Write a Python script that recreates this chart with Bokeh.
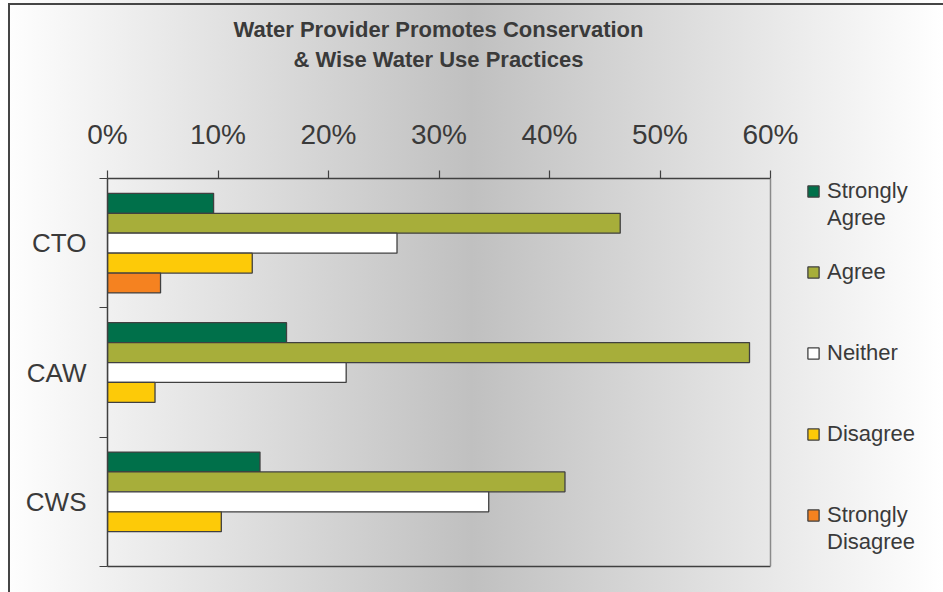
from bokeh.plotting import figure
from bokeh.layouts import column
from bokeh.models import (ColumnDataSource, Range1d, FixedTicker, PrintfTickFormatter,
                          Legend, LegendItem, LinearAxis, Span, Div)
from bokeh.embed import file_html
from bokeh.resources import INLINE

# ---- data (percent of respondents) ----
categories = ["CTO", "CAW", "CWS"]
series = ["Strongly Agree", "Agree", "Neither", "Disagree", "Strongly Disagree"]
# legend label lines per series (two-line labels wrap like the original)
legend_lines = [["Strongly", "Agree"], ["Agree"], ["Neither"], ["Disagree"], ["Strongly", "Disagree"]]
strongly_agree = [9.6, 16.2, 13.8]
agree = [46.4, 58.1, 41.4]
neither = [26.2, 21.6, 34.5]
disagree = [13.1, 4.3, 10.3]
strongly_disagree = [4.8, 0.0, 0.0]
x_ticks = [0, 10, 20, 30, 40, 50, 60]
title_lines = ["Water Provider Promotes Conservation", "&amp; Wise Water Use Practices"]

values = [strongly_agree, agree, neither, disagree, strongly_disagree]
colors = ["#00704A", "#A7AE3A", "#FFFFFF", "#FDCA08", "#F58220"]

FONT = "Liberation Sans, Arial, sans-serif"
TXT = "#3a3a3a"

# ---- layout constants (pixels) ----
W, H = 943, 592
TITLE_H = 100
LEFT, TOP, BOTTOM = 107, 178, 26
AXIS_W = 663            # pixel length of the 0..60 % axis
x_max = x_ticks[-1]
x_end = x_max * (W - LEFT) / AXIS_W   # frame continues under the legend

p = figure(width=W, height=H - TITLE_H, output_backend="svg", toolbar_location=None,
           x_range=Range1d(0, x_end), y_range=Range1d(0, 3),
           x_axis_location="above", min_border_left=LEFT, min_border_right=0,
           min_border_top=TOP - TITLE_H, min_border_bottom=BOTTOM)
p.xgrid.visible = False
p.ygrid.visible = False
p.background_fill_color = None
p.border_fill_color = None
p.outline_line_color = None

# category centres: first category at top
n = len(categories)
centers = [n - 0.5 - i for i in range(n)]
bar_h = 0.154

renderers = []
for k, (name, vals, col) in enumerate(zip(series, values, colors)):
    ys, rs = [], []
    for c, v in zip(centers, vals):
        if v > 0:
            ys.append(c + (2 - k) * bar_h)
            rs.append(v)
    src = ColumnDataSource(dict(y=ys, right=rs))
    r = p.hbar(y="y", left=0, right="right", height=bar_h, source=src,
               fill_color=col, line_color="#404040", line_width=1.3)
    renderers.append(r)

# invisible renderer used for continuation / spacer rows of the legend
blank = p.hbar(y=[], left=0, right=[], height=bar_h, fill_alpha=0, line_alpha=0)

# right edge of the plot area at the last tick
p.add_layout(Span(location=x_max, dimension="height", line_color="#8a8a8a", line_width=1.5))

# x axis (top)
xa = p.xaxis[0]
xa.ticker = FixedTicker(ticks=x_ticks)
xa.bounds = (0, x_max)
xa.formatter = PrintfTickFormatter(format="%d%%")
xa.major_tick_in = 0
xa.major_tick_out = 8
xa.minor_tick_line_color = None
xa.axis_line_color = "#404040"
xa.axis_line_width = 1.5
xa.major_tick_line_color = "#404040"
xa.major_tick_line_width = 1.2
xa.major_label_text_font = FONT
xa.major_label_text_font_size = "28px"
xa.major_label_text_color = TXT
xa.major_label_standoff = 21

# y axis: labels at band centres, ticks at band boundaries
ya = p.yaxis[0]
ya.ticker = FixedTicker(ticks=centers, minor_ticks=[0, 1, 2, 3])
ya.major_label_overrides = {c: lab for c, lab in zip(centers, categories)}
ya.major_tick_line_color = None
ya.major_tick_in = 0
ya.major_tick_out = 0
ya.minor_tick_in = 0
ya.minor_tick_out = 8
ya.minor_tick_line_color = "#404040"
ya.minor_tick_line_width = 1.2
ya.axis_line_color = "#404040"
ya.axis_line_width = 1.5
ya.major_label_text_font = FONT
ya.major_label_text_font_size = "26px"
ya.major_label_text_color = TXT
ya.major_label_standoff = 13

# dark bottom frame line
bx = LinearAxis(ticker=FixedTicker(ticks=[]), bounds=(0, x_max), axis_line_color="#404040",
                axis_line_width=1.5, major_label_text_font_size="0px",
                major_tick_line_color=None, minor_tick_line_color=None)
p.add_layout(bx, "below")

# legend rows: each series starts 3 rows after the previous one
ROWS_PER_ITEM = 3
items = []
for k, lines in enumerate(legend_lines):
    items.append(LegendItem(label=lines[0], renderers=[renderers[k]]))
    for extra in lines[1:]:
        items.append(LegendItem(label=extra, renderers=[blank]))
    if k < len(legend_lines) - 1:
        for _ in range(ROWS_PER_ITEM - len(lines)):
            items.append(LegendItem(label=" ", renderers=[blank]))

legend = Legend(items=items, location=(699, 11), orientation="vertical",
                glyph_width=14, glyph_height=14, label_standoff=7,
                label_text_font=FONT, label_text_font_size="22px",
                label_text_color=TXT, background_fill_alpha=0, border_line_alpha=0,
                spacing=0, margin=0, padding=0, label_height=27)
p.add_layout(legend, "center")

title_html = (
    f'<div style="width:{AXIS_W}px;margin-left:{LEFT}px;padding-top:15px;text-align:center;'
    f'font-family:{FONT};font-weight:bold;font-size:22px;line-height:30px;color:{TXT}">'
    + "<br>".join(title_lines) + "</div>"
)
title = Div(text=title_html, width=W, height=TITLE_H, margin=0)

layout = column(title, p, spacing=0, margin=0)
layout.styles = {
    "background": "linear-gradient(#454545,#454545) 8px 3px / 2px 100% no-repeat, "
                  "linear-gradient(#454545,#454545) 8px 3px / 100% 2px no-repeat, "
                  "linear-gradient(to right, #ffffff 0%, #c0c0c0 50%, #ffffff 100%)"
}

open("out.html", "w").write(file_html(layout, INLINE))
